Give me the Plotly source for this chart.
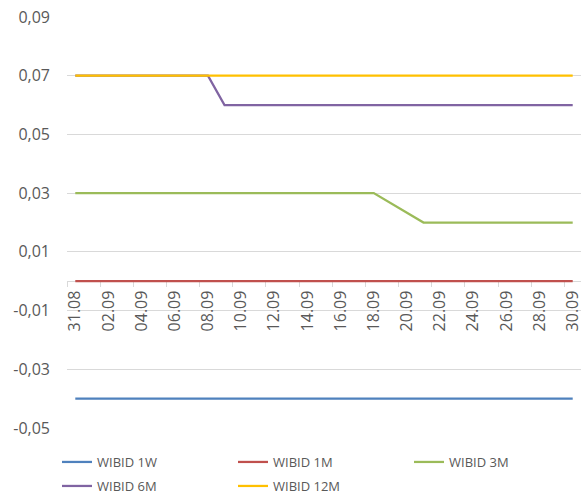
import plotly.graph_objects as go
import pandas as pd

# ---- data ----
dates = ["2020-08-31", "2020-09-01", "2020-09-02", "2020-09-03", "2020-09-04",
         "2020-09-07", "2020-09-08", "2020-09-09", "2020-09-10", "2020-09-11",
         "2020-09-14", "2020-09-15", "2020-09-16", "2020-09-17", "2020-09-18",
         "2020-09-21", "2020-09-22", "2020-09-23", "2020-09-24", "2020-09-25",
         "2020-09-28", "2020-09-29", "2020-09-30"]

wibid_1w = [-0.04] * 23
wibid_1m = [0.0] * 23
wibid_3m = [0.03, 0.03, 0.03, 0.03, 0.03, 0.03, 0.03, 0.03, 0.03, 0.03,
            0.03, 0.03, 0.03, 0.03, 0.03,
            0.02, 0.02, 0.02, 0.02, 0.02, 0.02, 0.02, 0.02]
wibid_6m = [0.07, 0.07, 0.07, 0.07, 0.07, 0.07, 0.07,
            0.06, 0.06, 0.06, 0.06, 0.06, 0.06, 0.06, 0.06, 0.06, 0.06,
            0.06, 0.06, 0.06, 0.06, 0.06, 0.06]
wibid_12m = [0.07] * 23

series_names = ["WIBID 1W", "WIBID 1M", "WIBID 3M", "WIBID 6M", "WIBID 12M"]
series_values = [wibid_1w, wibid_1m, wibid_3m, wibid_6m, wibid_12m]
colors = ["#4F81BD", "#C0504D", "#9BBB59", "#8064A2", "#FFC000"]

tick_dates = ["2020-08-31", "2020-09-02", "2020-09-04", "2020-09-06", "2020-09-08",
              "2020-09-10", "2020-09-12", "2020-09-14", "2020-09-16", "2020-09-18",
              "2020-09-20", "2020-09-22", "2020-09-24", "2020-09-26", "2020-09-28",
              "2020-09-30"]
tick_labels = ["31.08", "02.09", "04.09", "06.09", "08.09", "10.09", "12.09", "14.09",
               "16.09", "18.09", "20.09", "22.09", "24.09", "26.09", "28.09", "30.09"]

y_tick_vals = [-0.05, -0.03, -0.01, 0.01, 0.03, 0.05, 0.07, 0.09]
y_tick_labels = ["-0,05", "-0,03", "-0,01", "0,01", "0,03", "0,05", "0,07", "0,09"]

y_min, y_max = -0.05, 0.09

# ---- figure ----
fig = go.Figure()
legend_of = ["legend", "legend", "legend", "legend2", "legend2"]
for name, vals, col, lg in zip(series_names, series_values, colors, legend_of):
    fig.add_trace(go.Scatter(x=dates, y=vals, name=name, mode="lines",
                             line=dict(color=col, width=2.25), legend=lg))

boundaries = [d.strftime("%Y-%m-%d 12:00") for d in
              pd.date_range("2020-08-30", "2020-09-30", freq="2D")]

zero_pos = (0 - y_min) / (y_max - y_min)
grey_txt = "#595959"
grid = "#D9D9D9"

ML, MR, MT, MB = 67, 1, 17, 66
W, H = 582, 494
pw, ph = W - ML - MR, H - MT - MB
leg_x = (57 - ML) / pw
leg_common = dict(orientation="h", xanchor="left", yanchor="middle",
                  entrywidth=131, entrywidthmode="pixels",
                  font=dict(size=13, color=grey_txt), traceorder="normal",
                  bgcolor="rgba(0,0,0,0)", borderwidth=0)

fig.update_layout(
    width=W, height=H,
    margin=dict(l=ML, r=MR, t=MT, b=MB, autoexpand=False),
    paper_bgcolor="white", plot_bgcolor="white",
    font=dict(family="Open Sans", color=grey_txt),
    showlegend=True,
    legend=dict(x=leg_x, y=(428 - 462) / ph, **leg_common),
    legend2=dict(x=leg_x, y=(428 - 486) / ph, **leg_common),
    xaxis=dict(type="date", range=["2020-08-30 12:00", "2020-09-30 12:00"],
               anchor="free", position=zero_pos, layer="below traces",
               automargin=False,
               tickmode="array", tickvals=tick_dates, ticktext=tick_labels,
               tickangle=-90, ticks="", ticklabelstandoff=2,
               ticklabeloverflow="allow",
               tickfont=dict(size=16, color=grey_txt),
               showgrid=False, zeroline=False,
               showline=True, linecolor=grid, linewidth=1,
               minor=dict(tickmode="array", tickvals=boundaries, ticks="outside",
                          ticklen=5, tickcolor=grid, showgrid=False)),
    yaxis=dict(range=[y_min, y_max], tickmode="array", tickvals=y_tick_vals,
               ticktext=y_tick_labels, automargin=False,
               showgrid=True, gridcolor=grid, gridwidth=1,
               zeroline=False, showline=False, ticks="", ticklabelstandoff=16,
               tickfont=dict(size=16, color=grey_txt)),
)

fig.write_html("out.html", config={"displayModeBar": False},
               post_script="document.body.style.margin='0';document.body.style.overflow='hidden';")
